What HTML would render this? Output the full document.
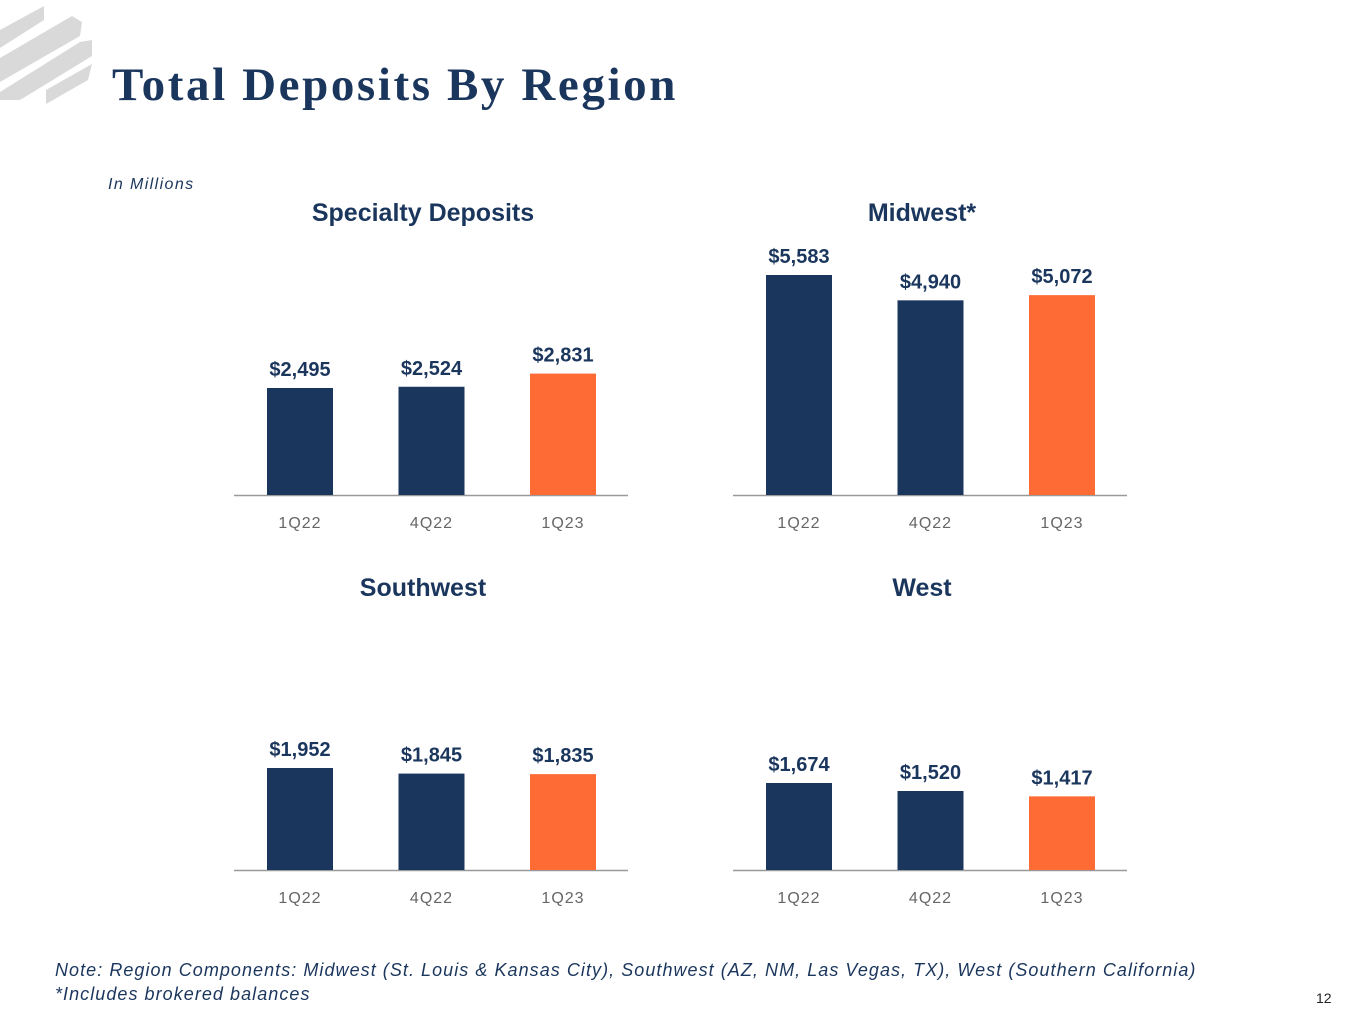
<!DOCTYPE html>
<html><head><meta charset="utf-8"><style>
body{margin:0;width:1365px;height:1024px;background:#fff;position:relative;overflow:hidden;font-family:"Liberation Sans",sans-serif}
.t{position:absolute;white-space:nowrap}
</style></head><body>
<svg style="position:absolute;left:0;top:0" width="100" height="110">
<polygon points="0,30 44,6 44,20 0,48" fill="#d9d9d9"/>
<polygon points="0,58 72,16 82,22 80,36 0,82" fill="#d9d9d9"/>
<polygon points="0,92 80,42 92,40 92,56 20,100 0,100" fill="#d9d9d9"/>
<polygon points="46,90 92,64 88,80 46,104" fill="#d9d9d9"/>
</svg>
<div class="t" style="left:112px;top:58px;font-family:'Liberation Serif',serif;font-weight:bold;font-size:47px;letter-spacing:2.6px;color:#1b365d">Total Deposits By Region</div>
<div class="t" style="left:108px;top:176px;font-style:italic;font-size:16px;letter-spacing:1.4px;color:#1b365d">In Millions</div>
<div class="t" style="left:55px;top:958px;font-style:italic;font-size:18px;letter-spacing:1.05px;color:#1b365d;line-height:24px">Note: Region Components: Midwest (St. Louis &amp; Kansas City), Southwest (AZ, NM, Las Vegas, TX), West (Southern California)<br>*Includes brokered balances</div>
<div class="t" style="left:1316px;top:990px;font-size:14px;color:#222">12</div>
<svg id="c" width="1365" height="1024" style="position:absolute;left:0;top:0"></svg>
<script>
const categories=["1Q22","4Q22","1Q23"];
const titles=["Specialty Deposits","Midwest*","Southwest","West"];
const specialtyValues=[2495,2524,2831];
const midwestValues=[5583,4940,5072];
const southwestValues=[1952,1845,1835];
const westValues=[1674,1520,1417];
const series=[specialtyValues,midwestValues,southwestValues,westValues];
const scales=[107/2495,220/5583,102/1952,87/1674];
const panels=[[234,495],[733,495],[234,870],[733,870]];
const names=["specialty","midwest","southwest","west"];
const svg=document.getElementById('c');const NS="http://www.w3.org/2000/svg";
function mk(t,a,txt){const e=document.createElementNS(NS,t);for(const k in a)e.setAttribute(k,a[k]);if(txt!=null)e.textContent=txt;svg.appendChild(e);return e;}
series.forEach((vals,p)=>{
 const [x0,y0]=panels[p];
 const x=i=>x0+66+i*131.5;
 const y=v=>y0-v*scales[p];
 let e=mk('text',{x:x0+189,y:y0-274,'text-anchor':'middle','font-size':25,'font-weight':'bold',fill:'#1b365d'},titles[p]);
 
 
 e=mk('line',{x1:x0,x2:x0+394,y1:y0+0.5,y2:y0+0.5,stroke:'#999','stroke-width':1.5});
 
 
 vals.forEach((v,i)=>{
  e=mk('rect',{x:x(i)-33,y:y(v),width:66,height:y0-y(v),fill:i==2?'#ff6b35':'#1b365d'});
  
  
  e=mk('text',{x:x(i),y:y(v)-12,'text-anchor':'middle','font-size':20,'font-weight':'bold',fill:'#1b365d'},'$'+v.toLocaleString('en-US'));
  
  
  e=mk('text',{x:x(i),y:y0+33,'text-anchor':'middle','font-size':16,'letter-spacing':1,fill:'#666'},categories[i]);
  
  
 });
});
</script>
</body></html>
